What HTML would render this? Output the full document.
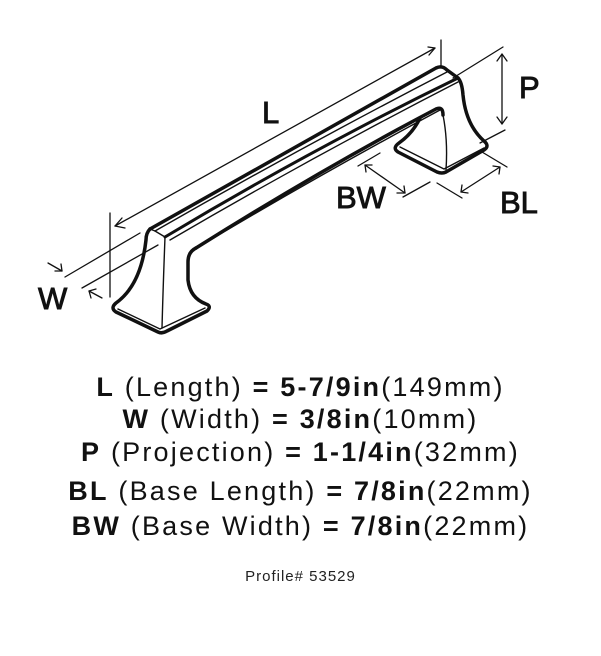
<!DOCTYPE html>
<html><head><meta charset="utf-8"><style>
html,body{margin:0;padding:0;background:#fff;}
body{width:601px;height:656px;position:relative;overflow:hidden;font-family:"Liberation Sans",sans-serif;color:#111;}
.t{position:absolute;left:0;width:601px;text-align:center;font-size:27px;line-height:30px;letter-spacing:2.2px;white-space:nowrap;}
.t b{font-weight:bold;}
</style></head><body>
<svg width="601" height="656" style="position:absolute;left:0;top:0" xmlns="http://www.w3.org/2000/svg">
<g fill="none" stroke="#111" stroke-linecap="round" stroke-linejoin="round">
<g stroke-width="3.5">
<path d="M150,229 L436,68 Q442,65 447,70 L458,78"/>
<path d="M150,229 Q146,233 146,240 Q141,285 116,303 Q110,308 116,312 L158,332 Q162,334 167,331 L207,311 Q212,306 206,304 Q190,298 188,280 L188,262 Q188,252 196,248"/>
<path d="M196,248 Q320,170 436,109 Q443,106 443,115"/>
<path d="M458,78 Q462,82 463,95 Q466,125 484,141 Q490,146 484,150 L446,172 Q442,174 437,172 L398,152 Q392,148 399,143 Q413,133 420,118"/>
<path d="M165,237 Q310,150 458,78" stroke-width="3"/>
</g>
<g stroke-width="1.4">
<path d="M150,229 L155,231 L165,237"/>
<path d="M155,231 Q300,148 447,72"/>
<path d="M165,237 Q163,290 162,328"/>
<path d="M170,240 Q310,158 458,82"/>
<path d="M190,252 Q310,180 440,110"/>
<path d="M443,115 Q448,140 446,170"/>
<path d="M118,309 L160,329 L205,308"/>
<path d="M400,147 L444,169 L484,148"/>
</g>
<g stroke-width="1.3">
<path d="M115,226 L435,48"/>
<path d="M122,218 L115,226 L125,228"/>
<path d="M428,47 L435,48 L429,55"/>
<path d="M110,213 L110,297"/>
<path d="M441,40 L441,68"/>
<path d="M453,78 L503,47"/>
<path d="M480,143 L505,130"/>
<path d="M502,54 L502,124"/>
<path d="M497,61 L502,54 L507,61"/>
<path d="M497,117 L502,124 L507,117"/>
<path d="M358,166 L380,153"/>
<path d="M403,197 L430,182"/>
<path d="M365,165 L405,193"/>
<path d="M366,172 L365,165 L372,165"/>
<path d="M397,193 L405,193 L404,186"/>
<path d="M437,183 L462,198"/>
<path d="M482,152 L507,167"/>
<path d="M461,192 L500,167"/>
<path d="M462,185 L461,192 L468,193"/>
<path d="M493,166 L500,167 L499,174"/>
<path d="M65,277 L140,233"/>
<path d="M82,288 L158,245"/>
<path d="M48,263 L62,271"/>
<path d="M55,271 L62,271 L61,264"/>
<path d="M102,298 L89,291"/>
<path d="M91,298 L89,291 L96,289"/>
</g>
</g>
<g font-family="Liberation Sans, sans-serif" font-size="31" fill="#111" stroke="#111" stroke-width="0.9">
<text x="262" y="123">L</text>
<text x="519" y="98">P</text>
<text x="336" y="208">BW</text>
<text x="500" y="213">BL</text>
<text x="38" y="309">W</text>
</g>
</svg>
<div class="t" style="top:372px"><b>L</b> (Length) <b>= 5-7/9in</b>(149mm)</div>
<div class="t" style="top:404px"><b>W</b> (Width) <b>= 3/8in</b>(10mm)</div>
<div class="t" style="top:437px"><b>P</b> (Projection) <b>= 1-1/4in</b>(32mm)</div>
<div class="t" style="top:476px"><b>BL</b> (Base Length) <b>= 7/8in</b>(22mm)</div>
<div class="t" style="top:511px"><b>BW</b> (Base Width) <b>= 7/8in</b>(22mm)</div>
<div class="t" style="top:569px;font-size:15px;line-height:16px;letter-spacing:1px;color:#222">Profile# 53529</div>
</body></html>
